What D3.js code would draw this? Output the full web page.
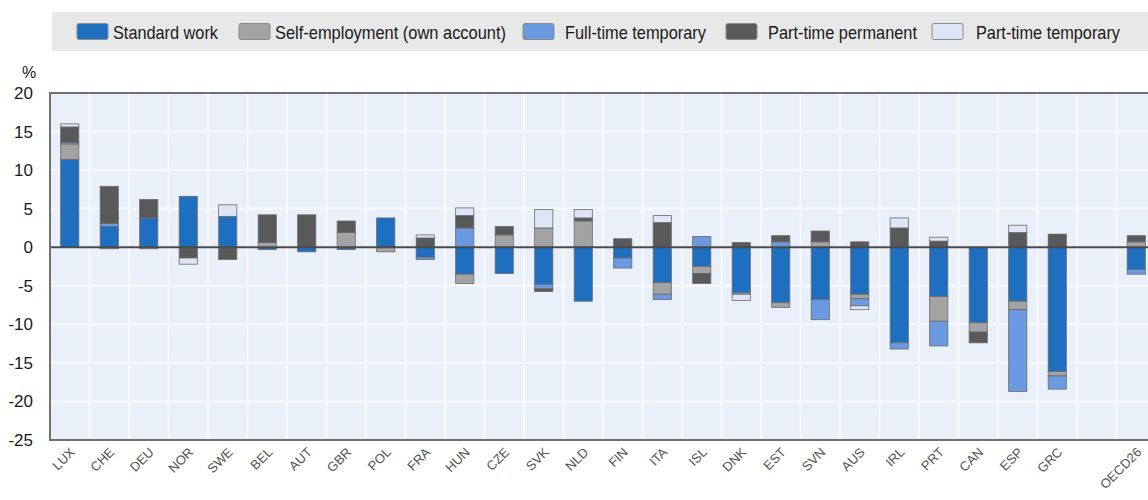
<!DOCTYPE html>
<html>
<head>
<meta charset="utf-8">
<script src="https://cdn.jsdelivr.net/npm/d3@7"></script>
<style>
  html, body { margin: 0; padding: 0; background: #fff; }
  svg { display: block; font-family: "Liberation Sans", Arial, sans-serif; }
</style>
</head>
<body>
<svg id="chart" width="1148" height="500"></svg>
<script>
// ---- data ----
const categories = ["LUX","CHE","DEU","NOR","SWE","BEL","AUT","GBR","POL","FRA","HUN","CZE","SVK","NLD","FIN","ITA","ISL","DNK","EST","SVN","AUS","IRL","PRT","CAN","ESP","GRC","","OECD26"];
const seriesNames = ["Standard work","Self-employment (own account)","Full-time temporary","Part-time permanent","Part-time temporary"];
const standardWork     = [11.4, 2.7, 3.8, 6.6, 4.0,-0.3,-0.6,-0.3, 3.8,-1.3,-3.5,-3.4,-4.8,-7.0,-1.4,-4.6,-2.5,-5.9,-7.2,-6.8,-6.1,-12.4,-6.4,-9.8,-7.0,-16.1, 0,-2.9];
const selfEmployment   = [ 2.0,-0.2,-0.2, 0.0, 0.0, 0.6, 0.0, 1.9,-0.6, 0.0,-1.2, 1.6, 2.5, 3.4, 0.0,-1.5,-0.9, 0.0,-0.6, 0.7,-0.6,  0.0,-3.2,-1.2,-1.1, -0.6, 0, 0.7];
const fullTimeTemp     = [ 0.2, 0.4, 0.0, 0.0, 0.0, 0.0, 0.0, 0.0, 0.0,-0.3, 2.5, 0.0,-0.6, 0.0,-1.3,-0.7, 1.4,-0.2, 0.7,-2.6,-0.9, -0.8,-3.2, 0.0,-10.6,-1.7, 0,-0.6];
const partTimePerm     = [ 2.0, 4.8, 2.4,-1.4,-1.6, 3.6, 4.2, 1.5, 0.0, 1.2, 1.6, 1.1,-0.35,0.4, 1.1, 3.2,-1.3, 0.6, 0.8, 1.4, 0.7,  2.5, 0.8,-1.4, 1.9,  1.7, 0, 0.8];
const partTimeTemp     = [ 0.4, 0.0, 0.0,-0.8, 1.5, 0.0, 0.0, 0.0, 0.0, 0.4, 1.0, 0.0, 2.4, 1.1, 0.0, 0.9, 0.0,-0.8, 0.0, 0.0,-0.5,  1.3, 0.5, 0.0, 0.95, 0.0, 0, 0.0];
const yTicks = [20,15,10,5,0,-5,-10,-15,-20,-25];
const colors = ["#1f6fc1","#a3a3a3","#6b9ae0","#595959","#dde5f7"];

// ---- build table ----
const allSeries = [standardWork, selfEmployment, fullTimeTemp, partTimePerm, partTimeTemp];
const keys = ["s0","s1","s2","s3","s4"];
const table = categories.map((c, i) => {
  const row = { cat: c, idx: i };
  keys.forEach((k, j) => row[k] = allSeries[j][i]);
  return row;
});

const svg = d3.select("#chart");
const plot = { left: 50, top: 93, bottom: 440, right: 50 + 39.5 * categories.length };

const x = d3.scaleBand().domain(d3.range(categories.length)).range([plot.left, plot.right]).paddingInner(0.54).paddingOuter(0.27);
const xSlot = d3.scaleBand().domain(d3.range(categories.length)).range([plot.left, plot.right]);
const y = d3.scaleLinear().domain([-25, 20]).range([plot.bottom, plot.top]);

// legend
svg.append("rect").attr("x", 52).attr("y", 12).attr("width", 1096).attr("height", 39).attr("fill", "#e8e8e8");
const legendPos = [
  { sx: 77, tx: 113, tw: 105 },
  { sx: 239, tx: 275, tw: 231 },
  { sx: 523, tx: 565, tw: 141 },
  { sx: 726, tx: 768, tw: 149 },
  { sx: 932, tx: 976, tw: 144 }
];
seriesNames.forEach((name, i) => {
  const p = legendPos[i];
  svg.append("rect").attr("x", p.sx).attr("y", 23.5).attr("width", 31).attr("height", 16)
    .attr("fill", colors[i]).attr("stroke", "#8a8a8a").attr("stroke-width", 1).attr("rx", 2);
  svg.append("text").attr("x", p.tx).attr("y", 39).attr("font-size", 19).attr("fill", "#1a1a1a")
    .attr("textLength", p.tw).attr("lengthAdjust", "spacingAndGlyphs").text(name);
});

// plot background
const clip = svg.append("defs").append("clipPath").attr("id", "pc");
clip.append("rect").attr("x", plot.left).attr("y", plot.top).attr("width", plot.right - plot.left).attr("height", plot.bottom - plot.top);
const g = svg.append("g").attr("clip-path", "url(#pc)");
g.append("rect").attr("x", plot.left).attr("y", plot.top).attr("width", plot.right - plot.left).attr("height", plot.bottom - plot.top).attr("fill", "#eaf0f9");

// grid
g.selectAll("line.hg").data(yTicks).join("line").attr("class", "hg")
  .attr("x1", plot.left).attr("x2", plot.right).attr("y1", d => y(d)).attr("y2", d => y(d))
  .attr("stroke", "#f7f9fd").attr("stroke-width", 2);
g.selectAll("line.vg").data(d3.range(1, categories.length)).join("line").attr("class", "vg")
  .attr("x1", d => xSlot(d)).attr("x2", d => xSlot(d)).attr("y1", plot.top).attr("y2", plot.bottom)
  .attr("stroke", "#f7f9fd").attr("stroke-width", 2);

// bars
const stack = d3.stack().keys(keys).offset(d3.stackOffsetDiverging);
const stacked = stack(table);
stacked.forEach((layer, j) => {
  g.append("g").selectAll("rect").data(layer.filter(d => d.data.cat !== "" && d[1] !== d[0])).join("rect")
    .attr("x", d => x(d.data.idx))
    .attr("width", x.bandwidth())
    .attr("y", d => y(Math.max(d[0], d[1])))
    .attr("height", d => Math.abs(y(d[0]) - y(d[1])))
    .attr("fill", colors[j])
    .attr("stroke", "#6a6a6a").attr("stroke-width", 0.8);
});

// zero line
g.append("line").attr("x1", plot.left).attr("x2", plot.right).attr("y1", y(0)).attr("y2", y(0))
  .attr("stroke", "#4a4a4a").attr("stroke-width", 2);

// frame
svg.append("path").attr("d", `M${plot.right},${plot.top}H${plot.left}V${plot.bottom}H${plot.right}`)
  .attr("fill", "none").attr("stroke", "#707070").attr("stroke-width", 2);

// y axis labels
const yAxis = d3.axisLeft(y).tickValues(yTicks).tickSize(0).tickPadding(0).tickFormat(d => String(d));
const ya = svg.append("g").attr("transform", "translate(33,0)").call(yAxis);
ya.select(".domain").remove();
ya.selectAll("text").attr("font-size", 17).attr("fill", "#1a1a1a").attr("font-family", "Liberation Sans, Arial, sans-serif");
svg.append("text").attr("x", 29).attr("y", 78).attr("text-anchor", "middle").attr("font-size", 16).attr("fill", "#1a1a1a").text("%");

// x axis labels
const xAxis = d3.axisBottom(xSlot).tickSize(0).tickFormat(i => categories[i]);
const xa = svg.append("g").attr("transform", `translate(0,${plot.bottom})`).call(xAxis);
xa.select(".domain").remove();
xa.selectAll("text")
  .attr("font-size", 13).attr("fill", "#555").attr("font-family", "Liberation Sans, Arial, sans-serif")
  .attr("text-anchor", "end").attr("dy", 0).attr("y", 0)
  .attr("transform", "translate(6,13) rotate(-45)");
</script>
</body>
</html>
